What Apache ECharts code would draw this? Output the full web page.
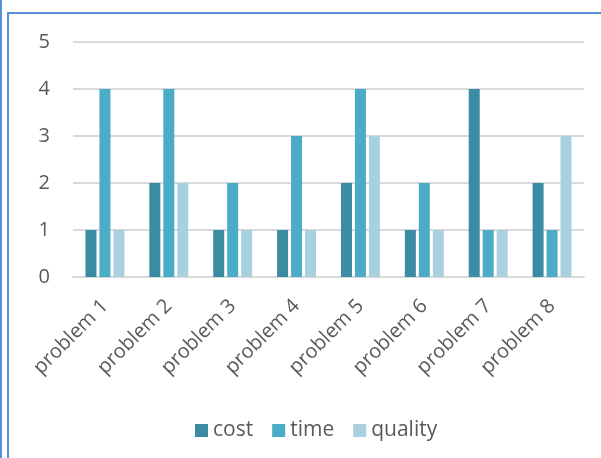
<!DOCTYPE html>
<html>
<head>
<meta charset="utf-8">
<script src="https://cdn.jsdelivr.net/npm/echarts@6/dist/echarts.min.js"></script>
<style>
  html, body { margin: 0; padding: 0; background: #ffffff; }
  #wrap { position: relative; width: 601px; height: 458px; overflow: hidden; }
  #chart { position: absolute; left: 0; top: 0; width: 601px; height: 458px; }
  .edge-outer { position: absolute; left: 0; top: 0; width: 2px; height: 458px; background: #5b8fd3; }
  .frame { position: absolute; left: 7px; top: 12px; width: 700px; height: 600px;
           border-left: 2px solid #5b8fd3; border-top: 2px solid #5b8fd3; }
</style>
</head>
<body>
<div id="wrap">
  <div class="edge-outer"></div>
  <div class="frame"></div>
  <div id="chart"></div>
</div>
<script>
const categories = ['problem 1', 'problem 2', 'problem 3', 'problem 4',
                    'problem 5', 'problem 6', 'problem 7', 'problem 8'];
const costValues    = [1, 2, 1, 1, 2, 1, 4, 2];
const timeValues    = [4, 4, 2, 3, 4, 2, 1, 1];
const qualityValues = [1, 2, 1, 1, 3, 1, 1, 3];
const yTicks = [0, 1, 2, 3, 4, 5];

const textColor = '#595959';
const fontFamily = '"Open Sans", "Noto Sans", sans-serif';

const chart = echarts.init(document.getElementById('chart'), null, { renderer: 'canvas' });

chart.setOption({
  backgroundColor: 'transparent',
  animation: false,
  grid: { left: 73, right: 17, top: 42, bottom: 181 },
  legend: {
    left: 190,
    top: 415,
    icon: 'rect',
    itemWidth: 13,
    itemHeight: 13,
    itemGap: 19,
    textStyle: { color: textColor, fontSize: 21, fontFamily: fontFamily },
    data: ['cost', 'time', 'quality']
  },
  xAxis: {
    type: 'category',
    data: categories,
    axisLine: { show: true, lineStyle: { color: '#d9d9d9', width: 2 } },
    axisTick: { show: false },
    axisLabel: {
      rotate: 45,
      interval: 0,
      margin: 26,
      color: textColor,
      fontSize: 20,
      fontFamily: fontFamily
    }
  },
  yAxis: {
    type: 'value',
    min: yTicks[0],
    max: yTicks[yTicks.length - 1],
    interval: 1,
    axisLine: { show: false },
    axisTick: { show: false },
    splitLine: { lineStyle: { color: '#d9d9d9', width: 2 } },
    axisLabel: {
      margin: 23,
      color: textColor,
      fontSize: 20,
      fontFamily: fontFamily
    }
  },
  series: [
    { name: 'cost', type: 'bar', data: costValues, barWidth: 11, barGap: '27%',
      itemStyle: { color: '#3b8ba3' } },
    { name: 'time', type: 'bar', data: timeValues, barWidth: 11, barGap: '27%',
      itemStyle: { color: '#4bacc6' } },
    { name: 'quality', type: 'bar', data: qualityValues, barWidth: 11, barGap: '27%',
      itemStyle: { color: '#a9d0de' } }
  ]
});
</script>
</body>
</html>
